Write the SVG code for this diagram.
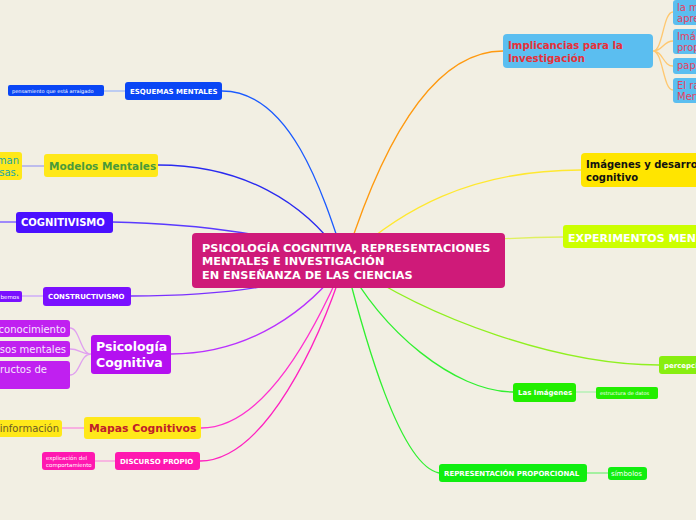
<svg xmlns="http://www.w3.org/2000/svg" width="696" height="520" viewBox="0 0 696 520">
<style>
text{font-family:"DejaVu Sans","Verdana",sans-serif}
.b{font-weight:bold}
.w{fill:#ffffff}
.c{fill:none;stroke-width:1.3}
.s{fill:none;stroke-width:1.6}
</style>
<rect width="696" height="520" fill="#f2efe3"/>
<g id="connectors">
<path class="c" stroke="#1a5aff" d="M222,91 C290,91 322,190 345,261"/>
<path class="c" stroke="#2a2af0" d="M158,165 C240,165 305,200 345,261"/>
<path class="c" stroke="#5a3aff" d="M112,222 C200,224 290,235 345,261"/>
<path class="c" stroke="#7a30ff" d="M131,296 C230,296 300,285 345,261"/>
<path class="c" stroke="#b830ff" d="M171,354 C250,354 310,310 345,261"/>
<path class="c" stroke="#ff30d0" d="M201,428 C265,428 315,330 345,261"/>
<path class="c" stroke="#ff20c0" d="M200,461 C265,461 320,340 345,261"/>
<path class="c" stroke="#ff9a10" d="M503,51 C430,51 380,150 345,261"/>
<path class="c" stroke="#ffe830" d="M581,170 C470,170 400,210 345,261"/>
<path class="c" stroke="#e0f060" d="M563,237 C480,238 400,245 345,261"/>
<path class="c" stroke="#90f020" d="M659,365 C560,365 430,320 345,261"/>
<path class="c" stroke="#30f030" d="M513,392 C455,392 380,330 345,261"/>
<path class="c" stroke="#30f030" d="M439,473 C400,465 365,340 345,261"/>
<path class="s" stroke="#b0c4f4" d="M104,91 L125,91"/>
<path class="s" stroke="#b0b0ee" d="M22,166 L44,166"/>
<path class="s" stroke="#8a70ff" d="M0,222 L16,222"/>
<path class="s" stroke="#d0b0f8" d="M22,296 L43,296"/>
<path class="c" stroke="#e0a0f0" d="M91,354 C80,354 80,328 70,328 M91,354 C80,354 80,349 70,349 M91,354 C80,354 80,375 70,375"/>
<path class="s" stroke="#f8a0e0" d="M62,428 L84,428"/>
<path class="s" stroke="#f8a8e0" d="M95,461 L115,461"/>
<path class="c" stroke="#ffc870" d="M653,51 C663,51 663,12 673,12 M653,51 C663,51 663,41 673,41 M653,51 C663,51 663,66 673,66 M653,51 C663,51 663,90 673,90"/>
<path class="s" stroke="#b8f0b8" d="M576,392 L596,392"/>
<path class="s" stroke="#90f090" d="M587,473 L608,473"/>
</g>
<g id="center">
<rect x="192" y="233" width="313" height="55" rx="4" fill="#cf1a79"/>
<text class="b w" font-size="11.3" x="202" y="252">PSICOLOGÍA COGNITIVA, REPRESENTACIONES</text>
<text class="b w" font-size="11.3" x="202" y="265">MENTALES E INVESTIGACIÓN</text>
<text class="b w" font-size="11.3" x="202" y="279">EN ENSEÑANZA DE LAS CIENCIAS</text>
</g>
<g id="esquemas">
<rect x="125" y="82" width="97" height="18" rx="3" fill="#0a46f5"/>
<text class="b w" font-size="7" x="130" y="94">ESQUEMAS MENTALES</text>
</g>
<g id="pensamiento">
<rect x="8" y="85" width="96" height="11" rx="2" fill="#0a46f5"/>
<text class="w" font-size="5" x="12" y="92.5">pensamiento que está arraigado</text>
</g>
<g id="modelos">
<rect x="44" y="154" width="114" height="23" rx="3" fill="#ffe81a"/>
<text class="b" font-size="10.5" fill="#4a9a3a" x="49" y="170">Modelos Mentales</text>
</g>
<g id="modelos-hijo">
<rect x="-10" y="152" width="32" height="28" rx="3" fill="#ffe81a"/>
<text font-size="10" fill="#20a5a8" x="19" y="164" text-anchor="end">man</text>
<text font-size="10" fill="#20a5a8" x="19" y="176" text-anchor="end">sas.</text>
</g>
<g id="cognitivismo">
<rect x="16" y="212" width="97" height="21" rx="3" fill="#4a10ff"/>
<text class="b w" font-size="10" x="21" y="226">COGNITIVISMO</text>
</g>
<g id="constructivismo">
<rect x="43" y="287" width="88" height="19" rx="3" fill="#7a10ff"/>
<text class="b w" font-size="7" x="48" y="299">CONSTRUCTIVISMO</text>
</g>
<g id="constructivismo-hijo">
<rect x="-10" y="291" width="32" height="11" rx="2" fill="#7a10ff"/>
<text class="w" font-size="5.5" x="19" y="298.5" text-anchor="end">bemos</text>
</g>
<g id="psicologia">
<rect x="91" y="335" width="80" height="39" rx="3" fill="#b410f0"/>
<text class="b w" font-size="12.5" x="96" y="351">Psicología</text>
<text class="b w" font-size="12.5" x="96" y="367">Cognitiva</text>
</g>
<g id="psico-hijo1">
<rect x="-10" y="320" width="80" height="17" rx="3" fill="#c020f0"/>
<text font-size="10" fill="#f6e4ff" x="66" y="333" text-anchor="end">conocimiento</text>
</g>
<g id="psico-hijo2">
<rect x="-10" y="341" width="80" height="16" rx="3" fill="#c020f0"/>
<text font-size="10" fill="#f6e4ff" x="66" y="353" text-anchor="end">sos mentales</text>
</g>
<g id="psico-hijo3">
<rect x="-10" y="361" width="80" height="28" rx="3" fill="#c020f0"/>
<text font-size="10" fill="#f6e4ff" x="0" y="373">ructos de</text>
</g>
<g id="mapas">
<rect x="84" y="417" width="117" height="22" rx="3" fill="#ffe81a"/>
<text class="b" font-size="10.8" fill="#c0202a" x="89" y="432">Mapas Cognitivos</text>
</g>
<g id="mapas-hijo">
<rect x="-10" y="420" width="72" height="17" rx="3" fill="#ffe81a"/>
<text font-size="10" fill="#6b5a28" x="59" y="432" text-anchor="end">información</text>
</g>
<g id="discurso">
<rect x="115" y="452" width="85" height="18" rx="3" fill="#ff18b0"/>
<text class="b w" font-size="7" x="120" y="464">DISCURSO PROPIO</text>
</g>
<g id="explicacion">
<rect x="42" y="452" width="53" height="18" rx="3" fill="#ff18b0"/>
<text class="w" font-size="5.5" x="46" y="459.5">explicación del</text>
<text class="w" font-size="5.5" x="46" y="466.5">comportamiento</text>
</g>
<g id="implicancias">
<rect x="503" y="34" width="150" height="34" rx="4" fill="#5bbef0"/>
<text class="b" font-size="10.2" fill="#e83038" x="508" y="49">Implicancias para la</text>
<text class="b" font-size="10.2" fill="#e83038" x="508" y="62">Investigación</text>
</g>
<g id="impl-hijo1">
<rect x="673" y="0" width="40" height="25" rx="3" fill="#5bbef0"/>
<text font-size="10" fill="#e84060" x="677" y="11">la m</text>
<text font-size="10" fill="#e84060" x="677" y="22">apre</text>
</g>
<g id="impl-hijo2">
<rect x="673" y="29" width="40" height="25" rx="3" fill="#5bbef0"/>
<text font-size="10" fill="#e84060" x="677" y="40">Imág</text>
<text font-size="10" fill="#e84060" x="677" y="51">prop</text>
</g>
<g id="impl-hijo3">
<rect x="673" y="58" width="40" height="16" rx="3" fill="#5bbef0"/>
<text font-size="10" fill="#e84060" x="677" y="69">pape</text>
</g>
<g id="impl-hijo4">
<rect x="673" y="78" width="40" height="25" rx="3" fill="#5bbef0"/>
<text font-size="10" fill="#e84060" x="677" y="89">El ra</text>
<text font-size="10" fill="#e84060" x="677" y="100">Men</text>
</g>
<g id="imagenes-desarrollo">
<rect x="581" y="153" width="130" height="34" rx="4" fill="#ffe500"/>
<text class="b" font-size="10" fill="#111111" x="586" y="168">Imágenes y desarro</text>
<text class="b" font-size="10" fill="#111111" x="586" y="181">cognitivo</text>
</g>
<g id="experimentos">
<rect x="563" y="225" width="150" height="23" rx="3" fill="#ccff00"/>
<text class="b w" font-size="11" x="568" y="242">EXPERIMENTOS MEN</text>
</g>
<g id="percepcion">
<rect x="659" y="356" width="50" height="18" rx="3" fill="#88ee10"/>
<text class="b w" font-size="7" x="664" y="368">percepci</text>
</g>
<g id="las-imagenes">
<rect x="513" y="383" width="63" height="19" rx="3" fill="#22ee00"/>
<text class="b w" font-size="7" x="518" y="395">Las Imágenes</text>
</g>
<g id="estructura">
<rect x="596" y="387" width="62" height="12" rx="2" fill="#22ee00"/>
<text class="w" font-size="5" x="600" y="395">estructura de datos</text>
</g>
<g id="representacion">
<rect x="439" y="464" width="148" height="18" rx="3" fill="#10ee10"/>
<text class="b w" font-size="7" x="444" y="476">REPRESENTACIÓN PROPORCIONAL</text>
</g>
<g id="simbolos">
<rect x="608" y="467" width="39" height="13" rx="3" fill="#10ee10"/>
<text class="w" font-size="7" x="611" y="476">símbolos</text>
</g>
</svg>
